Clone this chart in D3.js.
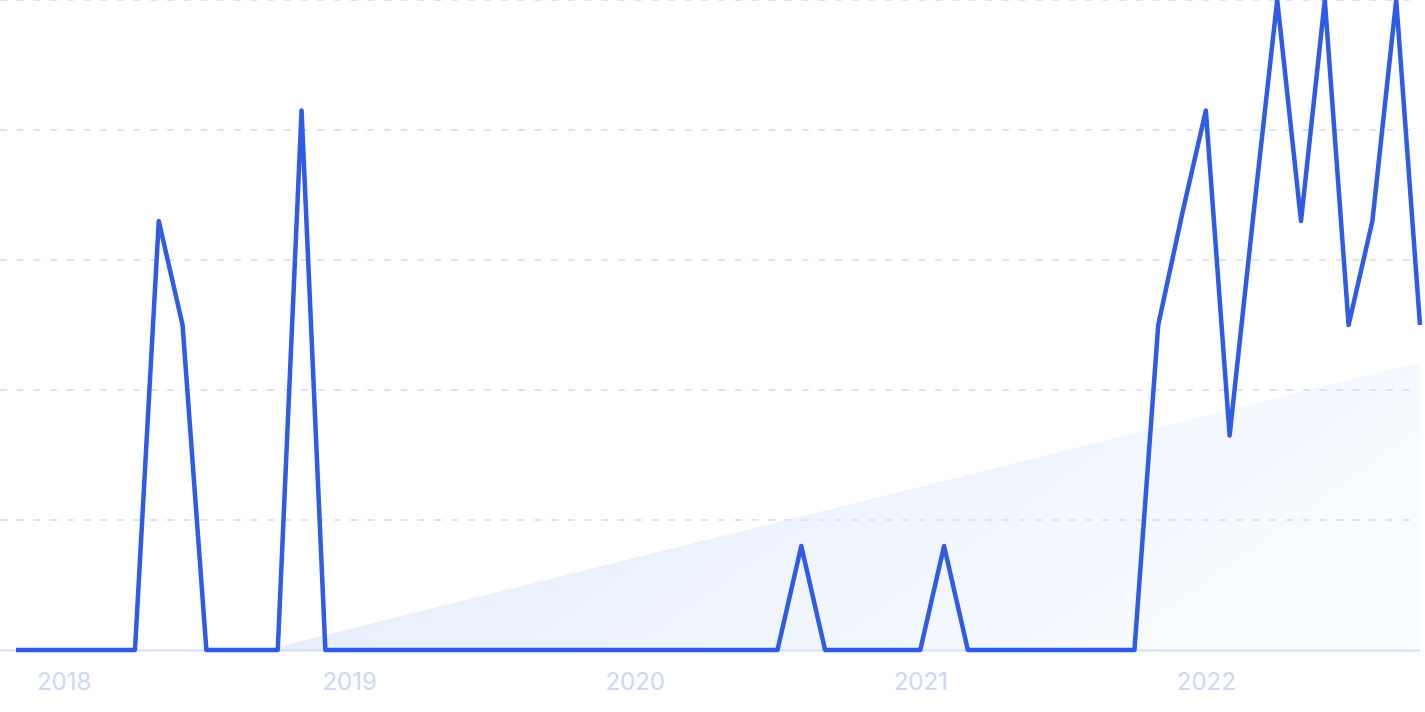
<!DOCTYPE html>
<html>
<head>
<meta charset="utf-8">
<script src="https://cdn.jsdelivr.net/npm/d3@7"></script>
<style>
  html, body { margin: 0; padding: 0; background: #fff; }
  svg { display: block; }
</style>
</head>
<body>
<div id="chart"></div>
<script>
// monthly keys, Nov 2017 .. Oct 2022
var months = d3.timeMonth.range(new Date(2017, 10, 1), new Date(2022, 10, 1))
    .map(d3.timeFormat("%Y-%m"));

// interest values, one per month
var values = [
    0, 0,                                          // 2017 Nov-Dec
    0, 0, 0, 0, 66, 50, 0, 0, 0, 0, 83, 0,         // 2018
    0, 0, 0, 0, 0, 0, 0, 0, 0, 0, 0, 0,            // 2019
    0, 0, 0, 0, 0, 0, 0, 16, 0, 0, 0, 0,           // 2020
    0, 16, 0, 0, 0, 0, 0, 0, 0, 0, 50, 67,         // 2021
    83, 33, 67, 100, 66, 100, 50, 66, 100, 50      // 2022 Jan-Oct
];

var yearTicks = ["2018-01", "2019-01", "2020-01", "2021-01", "2022-01"];
var gridValues = [0, 20, 40, 60, 80, 100];

// background trend wedge (month index, value)
var trendIndex = [10.46, 59];
var trendValue = [0, 44.3];

var svgWidth = 1425;
var svgHeight = 712;

var svg = d3.select("#chart")
    .append("svg")
    .attr("width", svgWidth)
    .attr("height", svgHeight);

var xScale = d3.scalePoint()
    .domain(months)
    .range([16, 1420]);

var xIndex = d3.scaleLinear()
    .domain([0, months.length - 1])
    .range([16, 1420]);

var yScale = d3.scaleLinear()
    .domain([0, 100])
    .range([650, 0]);

// gradient for the wedge
var defs = svg.append("defs");
var grad = defs.append("linearGradient")
    .attr("id", "wedge")
    .attr("x1", "0").attr("y1", "0")
    .attr("x2", "1").attr("y2", "0.35");
grad.append("stop").attr("offset", "0").attr("stop-color", "#e2eafb");
grad.append("stop").attr("offset", "0.55").attr("stop-color", "#edf3fd");
grad.append("stop").attr("offset", "1").attr("stop-color", "#f8fbff");

var wedge = [
    [xIndex(trendIndex[0]), yScale(trendValue[0])],
    [xIndex(trendIndex[1]), yScale(trendValue[1])],
    [xIndex(trendIndex[1]), yScale(0)]
];
svg.append("path")
    .attr("d", d3.line()(wedge) + "Z")
    .attr("fill", "url(#wedge)");

// dashed gridlines
svg.append("g")
    .selectAll("line")
    .data(gridValues.slice(1))
    .enter()
    .append("line")
    .attr("x1", 0)
    .attr("x2", 1420)
    .attr("y1", d => yScale(d))
    .attr("y2", d => yScale(d))
    .attr("stroke", "#dbe4fc")
    .attr("stroke-width", 2)
    .attr("stroke-dasharray", "7,9.7");

// baseline
svg.append("line")
    .attr("x1", 0)
    .attr("x2", 1420)
    .attr("y1", yScale(0) + 0.5)
    .attr("y2", yScale(0) + 0.5)
    .attr("stroke", "#d3dffb")
    .attr("stroke-width", 2);

// the series
var line = d3.line()
    .x((d, i) => xScale(months[i]))
    .y(d => yScale(d));

svg.append("path")
    .datum(values)
    .attr("d", line)
    .attr("fill", "none")
    .attr("stroke", "#2f5be7")
    .attr("stroke-width", 4.5)
    .attr("stroke-linejoin", "round")
    .attr("stroke-linecap", "butt");

// year labels
var xAxis = d3.axisBottom(xScale)
    .tickValues(yearTicks)
    .tickSize(0)
    .tickPadding(0)
    .tickFormat(d => d.slice(0, 4));

var axisG = svg.append("g")
    .attr("transform", "translate(0, 690)")
    .call(xAxis);

axisG.select(".domain").remove();
axisG.selectAll("text")
    .attr("y", 0)
    .attr("dy", 0)
    .attr("fill", "#cdd8f5")
    .style("font-family", "Inter, 'Noto Sans', sans-serif")
    .style("font-size", "24px");
</script>
</body>
</html>
